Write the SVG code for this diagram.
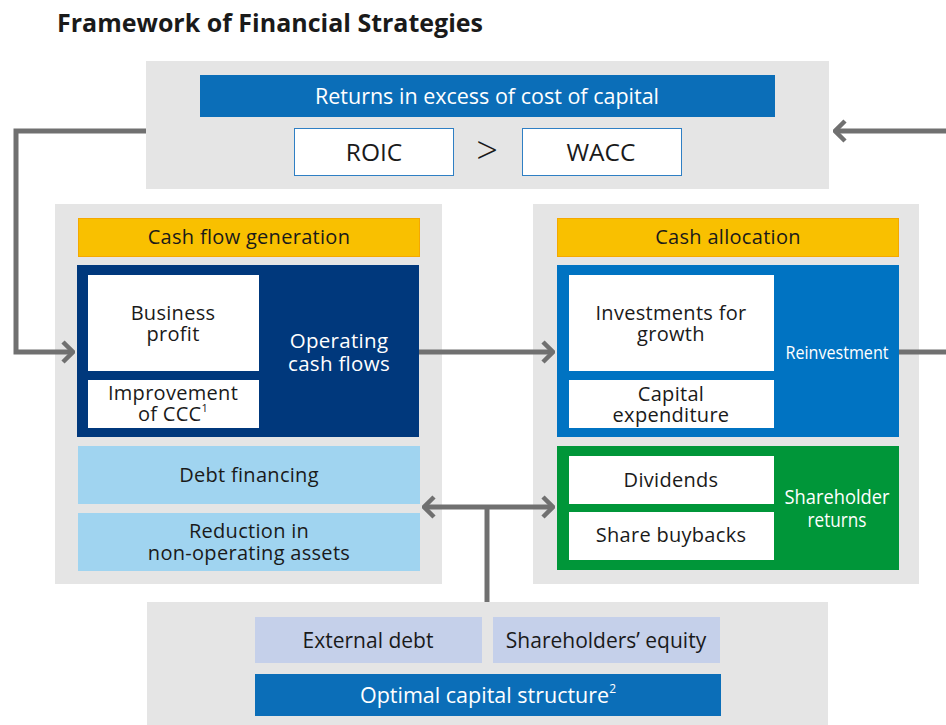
<svg xmlns="http://www.w3.org/2000/svg" width="946" height="725" viewBox="0 0 946 725">
<style>
text{font-family:"Open Sans","Noto Sans","DejaVu Sans",sans-serif;text-anchor:middle;dominant-baseline:central;fill:#1a1a1a}
.t{font-size:20px;letter-spacing:0.3px}
.w{fill:#ffffff}
.panel{fill:#e5e5e5}
.white{fill:#ffffff}
.yel{fill:#f9c000;stroke:#f5a800;stroke-width:1}
.lb{fill:#a0d4f0}
.lp{fill:#c5d0ea}
.con{fill:none;stroke:#707070;stroke-width:5}
</style>
<defs>
<marker id="chev" viewBox="0 0 14 24" refX="12" refY="12" markerWidth="14" markerHeight="24" markerUnits="userSpaceOnUse" orient="auto-start-reverse">
<path d="M2,2 L12,12 L2,22" fill="none" stroke="#707070" stroke-width="4.5"/>
</marker>
</defs>
<rect width="946" height="725" fill="#ffffff"/>
<text x="57" y="22" style="text-anchor:start;font-size:25px;font-weight:bold">Framework of Financial Strategies</text>

<g id="returns">
<rect class="panel" x="146" y="61" width="683" height="128"/>
<rect x="200" y="75" width="575" height="42" fill="#0b6eb8"/>
<text class="w" x="487" y="95.5" style="font-size:21.5px">Returns in excess of cost of capital</text>
<rect x="294.5" y="128.5" width="159" height="47" fill="#ffffff" stroke="#2f7fc4" stroke-width="1"/>
<text x="374" y="151.5" style="font-size:24.5px">ROIC</text>
<text x="487" y="149" style="font-size:38px;font-weight:300">&gt;</text>
<rect x="522.5" y="128.5" width="159" height="47" fill="#ffffff" stroke="#2f7fc4" stroke-width="1"/>
<text x="601" y="151.5" style="font-size:24.5px">WACC</text>
</g>

<g id="cash-flow-generation">
<rect class="panel" x="55" y="204" width="387" height="380"/>
<rect class="yel" x="78.5" y="218.5" width="341" height="38"/>
<text class="t" x="249" y="236.5">Cash flow generation</text>
<rect x="77" y="265" width="342" height="172" fill="#00387c"/>
<rect class="white" x="88" y="275" width="171" height="96"/>
<text class="t" x="173" y="312">Business</text>
<text class="t" x="173" y="333">profit</text>
<rect class="white" x="88" y="380" width="171" height="48"/>
<text class="t" x="173" y="392">Improvement</text>
<text class="t" x="173" y="413">of CCC<tspan style="font-size:11px" dy="-6">1</tspan></text>
<text class="t w" x="339" y="340" style="font-size:20.5px">Operating</text>
<text class="t w" x="339" y="362.5" style="font-size:20.5px">cash flows</text>
<rect class="lb" x="78" y="446" width="342" height="58"/>
<text class="t" x="249" y="474.5">Debt financing</text>
<rect class="lb" x="78" y="513" width="342" height="58"/>
<text class="t" x="249" y="530">Reduction in</text>
<text class="t" x="249" y="552">non-operating assets</text>
</g>

<g id="cash-allocation">
<rect class="panel" x="533" y="204" width="386" height="380"/>
<rect class="yel" x="557.5" y="218.5" width="341" height="38"/>
<text class="t" x="728" y="236.5">Cash allocation</text>
<rect x="557" y="265" width="342" height="172" fill="#0073c2"/>
<rect class="white" x="569" y="275" width="205" height="96"/>
<text class="t" x="671" y="312">Investments for</text>
<text class="t" x="671" y="333">growth</text>
<rect class="white" x="569" y="380" width="205" height="48"/>
<text class="t" x="671" y="393">Capital</text>
<text class="t" x="671" y="414">expenditure</text>
<text class="w" x="837" y="351.5" style="font-size:19px" textLength="103" lengthAdjust="spacingAndGlyphs">Reinvestment</text>
<rect x="557" y="446" width="342" height="124" fill="#009639"/>
<rect class="white" x="569" y="456" width="205" height="48"/>
<text class="t" x="671" y="479.5">Dividends</text>
<rect class="white" x="569" y="512" width="205" height="48"/>
<text class="t" x="671" y="534.5">Share buybacks</text>
<text class="w" x="837" y="496.5" style="font-size:20px" textLength="105" lengthAdjust="spacingAndGlyphs">Shareholder</text>
<text class="w" x="837" y="519" style="font-size:20px" textLength="59" lengthAdjust="spacingAndGlyphs">returns</text>
</g>

<g id="capital-structure">
<rect class="panel" x="147" y="602" width="681" height="123"/>
<rect class="lp" x="255" y="617" width="227" height="46"/>
<text x="368" y="639.5" style="font-size:21px">External debt</text>
<rect class="lp" x="493" y="617" width="227" height="46"/>
<text x="606" y="639.5" style="font-size:21px">Shareholders’ equity</text>
<rect x="255" y="674" width="466" height="42" fill="#0b6eb8"/>
<text class="w" x="488" y="694.5" style="font-size:21.5px">Optimal capital structure<tspan style="font-size:12px" dy="-7">2</tspan></text>
</g>

<g id="connectors">
<polyline class="con" points="146,131 16,131 16,352 73,352" marker-end="url(#chev)"/>
<line class="con" x1="419" y1="352" x2="553" y2="352" marker-end="url(#chev)"/>
<line class="con" x1="899" y1="352" x2="946" y2="352"/>
<line class="con" x1="946" y1="131" x2="835" y2="131" marker-end="url(#chev)"/>
<line class="con" x1="424" y1="507" x2="553" y2="507" marker-start="url(#chev)" marker-end="url(#chev)"/>
<line class="con" x1="487" y1="507" x2="487" y2="602"/>
</g>
</svg>
